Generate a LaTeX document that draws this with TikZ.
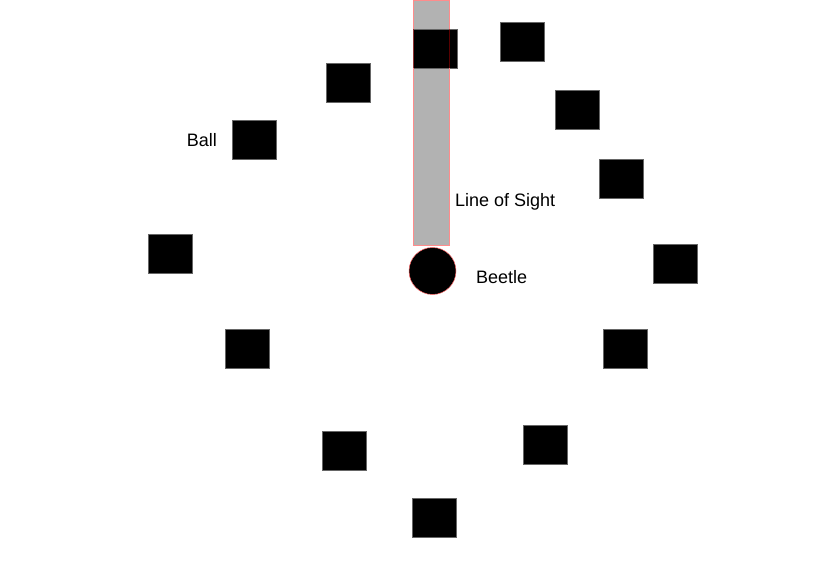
\documentclass[tikz,border=0pt]{standalone}
\usepackage{fontspec}
\setmainfont{Liberation Sans}
\begin{document}
\begin{tikzpicture}[x=1pt,y=-1pt,
  ball/.style={fill=black,draw=black!60,line width=0.6pt},
  lbl/.style={font=\fontsize{18}{21}\selectfont,inner sep=0pt}]
\useasboundingbox (0,0) rectangle (822,588);
\fill[white] (0,0) rectangle (822,588);
\fill[black!30] (413,0) rectangle (449,245);
\foreach \n/\x/\y in {b1/413/29,b2/500/22,b3/326/63,b4/555/90,b5/232/120,b6/599/159,b7/148/234,b8/653/244,b9/225/329,b10/603/329,b11/322/431,b12/523/425,b13/412/498}{
  \path[ball] (\x,\y) rectangle ++(44,39);
  \coordinate (\n) at ({\x+22},{\y+19.5});
}
\draw[red!70!black,opacity=0.5,line width=0.6pt] (413,29) -- (413,68) (449,29) -- (449,68);
\draw[red!45,line width=0.6pt] (413,0.3) -- (449,0.3) (413,0) -- (413,29) (449,0) -- (449,29) (413,68) -- (413,245) -- (449,245) -- (449,68);
\node[circle,fill=black,draw=red!60,line width=0.5pt,minimum size=47pt,inner sep=0pt] (beetle) at (432.5,271) {};
\node[lbl,anchor=east] (balllbl) at (217,140) {Ball};
\node[lbl,anchor=west] (sightlbl) at (455,202) {Line of Sight};
\node[lbl,anchor=west] (beetlelbl) at (476,277) {Beetle};
\end{tikzpicture}
\end{document}
